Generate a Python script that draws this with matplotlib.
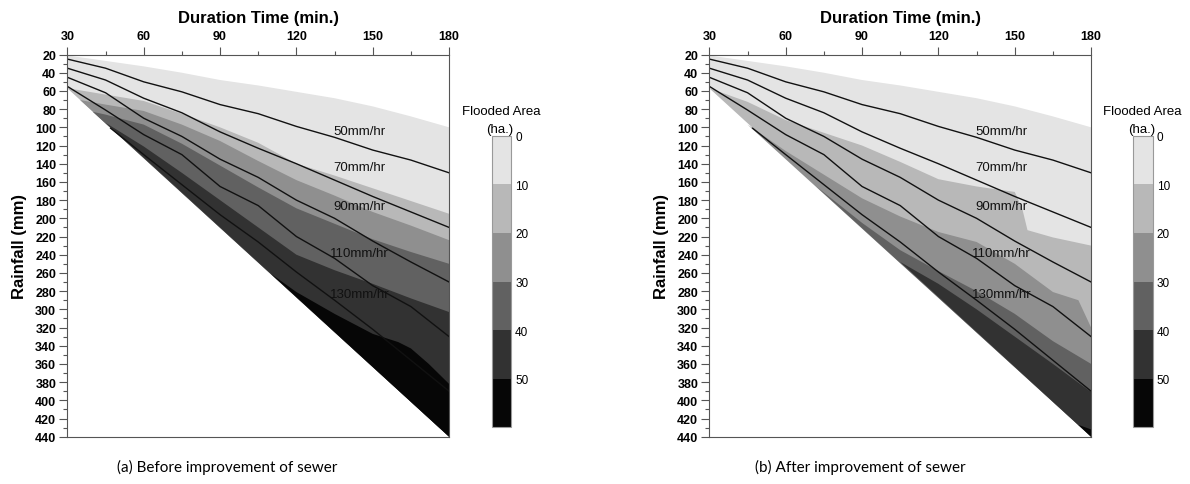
import matplotlib.pyplot as plt
import numpy as np
from matplotlib.colors import ListedColormap, BoundaryNorm
from matplotlib.cm import ScalarMappable
from matplotlib.ticker import MultipleLocator

plt.rcParams['font.family'] = ['Liberation Sans', 'DejaVu Sans']

# duration grid (min.)
DURATIONS = [30, 45, 60, 75, 90, 105, 120, 135, 150, 165, 180]

# simulated range: upper edge of rainfall and the straight lower edge
TOP_R = [21, 27, 33, 40, 48, 54, 61, 68, 77, 88, 100]
EDGE_D = [30, 180]
EDGE_R = [57, 440]

# rainfall intensity lines (mm) for 50..130 mm/hr
LINE_50 = [25, 35, 50, 61, 75, 85, 99, 111, 125, 136, 150]
LINE_70 = [35, 48, 68, 84, 105, 123, 140, 158, 176, 193, 210]
LINE_90 = [45, 62, 90, 110, 135, 155, 180, 200, 225, 248, 270]
LINE_110 = [55, 81, 108, 130, 165, 186, 220, 244, 274, 297, 330]
LINE_130_D = [47, 60, 75, 90, 105, 120, 135, 150, 165, 180]
LINE_130 = [101, 130, 163, 196, 226, 259, 290, 322, 356, 390]
LINE_NAMES = ['50mm/hr', '70mm/hr', '90mm/hr', '110mm/hr', '130mm/hr']
LABEL_D = [134.5, 134.5, 134.5, 133, 133]
LABEL_R = [104, 144, 187, 238, 283]

# flooded area contour boundaries (10, 20, 30, 40, 50 ha), before improvement
BEFORE_10_D = [30, 45, 60, 75, 90, 105, 120, 135, 150, 165, 180]
BEFORE_10_R = [57, 64, 71, 85, 100, 117, 140, 153, 167, 181, 195]
BEFORE_20_D = [35, 45, 60, 75, 90, 105, 120, 135, 150, 165, 180]
BEFORE_20_R = [70, 75, 82, 97, 115, 137, 158, 175, 193, 208, 224]
BEFORE_30_D = [40, 45, 60, 75, 90, 105, 120, 135, 150, 165, 180]
BEFORE_30_R = [83, 86, 97, 118, 142, 166, 189, 206, 223, 237, 250]
BEFORE_40_D = [45, 60, 75, 90, 105, 120, 135, 150, 165, 180]
BEFORE_40_R = [95, 121, 150, 180, 210, 240, 257, 272, 288, 303]
BEFORE_50_D = [110, 120, 135, 150, 160, 165, 172, 180]
BEFORE_50_R = [261, 281, 305, 327, 336, 343, 360, 382]

# after improvement
AFTER_10_D = [30, 45, 60, 75, 90, 105, 120, 135, 150, 153, 155, 165, 180]
AFTER_10_R = [57, 72, 92, 106, 120, 138, 157, 165, 171, 190, 213, 221, 230]
AFTER_20_D = [45, 60, 75, 90, 105, 120, 135, 150, 165, 175, 180]
AFTER_20_R = [97, 126, 152, 178, 198, 215, 226, 250, 281, 290, 320]
AFTER_30_D = [72, 90, 105, 120, 135, 150, 165, 180]
AFTER_30_R = [165, 205, 235, 258, 280, 305, 335, 360]
AFTER_40_D = [105, 120, 135, 150, 165, 180]
AFTER_40_R = [248, 272, 300, 330, 360, 391]
AFTER_50_D = [175, 180]
AFTER_50_R = [427, 432]

LEVELS = [0, 10, 20, 30, 40, 50, 60]
BAND_COLORS = ['#e4e4e4', '#b8b8b8', '#8f8f8f', '#616161', '#323232', '#060606']
SPINE = '#555555'


def draw_panel(fig, ax, cax, bounds, caption, caption_x, title_x):
    # lightest band fills the whole simulated range, darker ones stack on top
    ax.fill(np.r_[DURATIONS, EDGE_D[::-1]], np.r_[TOP_R, EDGE_R[::-1]],
            color=BAND_COLORS[0], lw=0)
    for (d, r), color in zip(bounds, BAND_COLORS[1:]):
        ax.fill(np.r_[d, EDGE_D[1]], np.r_[r, EDGE_R[1]], color=color, lw=0)

    lines = [(DURATIONS, LINE_50), (DURATIONS, LINE_70), (DURATIONS, LINE_90),
             (DURATIONS, LINE_110), (LINE_130_D, LINE_130)]
    for d, r in lines:
        ax.plot(d, r, color='#111111', lw=1.0)
    for name, d, r in zip(LINE_NAMES, LABEL_D, LABEL_R):
        ax.text(d, r, name, fontsize=9.5, color='#111111', ha='left', va='center')

    ax.set_xlim(30, 180)
    ax.set_ylim(440, 20)
    ax.xaxis.tick_top()
    ax.xaxis.set_label_position('top')
    ax.set_xticks(range(30, 181, 30), labels=[str(v) for v in range(30, 181, 30)],
                  fontweight='bold')
    ax.set_yticks(range(20, 441, 20), labels=[str(v) for v in range(20, 441, 20)],
                  fontweight='bold')
    ax.xaxis.set_minor_locator(MultipleLocator(15))
    ax.yaxis.set_minor_locator(MultipleLocator(10))
    ax.tick_params(which='major', direction='out', length=6, width=0.8,
                   color=SPINE, labelsize=9, pad=2)
    ax.tick_params(axis='x', which='major', pad=3)
    ax.tick_params(which='minor', direction='out', length=3, width=0.8, color=SPINE)
    for s in ax.spines.values():
        s.set_color(SPINE)
        s.set_linewidth(0.8)
    ax.set_xlabel('Duration Time (min.)', fontsize=12, fontweight='bold', labelpad=6)
    ax.set_ylabel('Rainfall (mm)', fontsize=12, fontweight='bold', labelpad=6)

    cmap = ListedColormap(BAND_COLORS)
    norm = BoundaryNorm(LEVELS, cmap.N)
    cb = fig.colorbar(ScalarMappable(norm=norm, cmap=cmap), cax=cax,
                      ticks=LEVELS[:-1], drawedges=True)
    cb.ax.invert_yaxis()
    cb.ax.minorticks_off()
    cb.outline.set_edgecolor('#999999')
    cb.outline.set_linewidth(0.8)
    cb.dividers.set_color('#999999')
    cb.dividers.set_linewidth(0.8)
    cax.tick_params(length=0, labelsize=8.5, pad=3)

    fig.text(title_x, 0.770, 'Flooded Area', ha='center', va='center', fontsize=9.5)
    fig.text(title_x - 0.001, 0.732, '(ha.)', ha='center', va='center', fontsize=9.5)
    fig.text(caption_x, 0.036, caption, ha='center', va='center', fontsize=11,
             family=['Lato', 'DejaVu Sans'])


fig = plt.figure(figsize=(11.9, 4.85), dpi=100)
ax_a = fig.add_axes([0.0566, 0.0975, 0.3208, 0.788])
cax_a = fig.add_axes([0.4132, 0.1169, 0.0162, 0.6012])
ax_b = fig.add_axes([0.5961, 0.0975, 0.3208, 0.788])
cax_b = fig.add_axes([0.9524, 0.1169, 0.0162, 0.6012])

before = [(BEFORE_10_D, BEFORE_10_R), (BEFORE_20_D, BEFORE_20_R),
          (BEFORE_30_D, BEFORE_30_R), (BEFORE_40_D, BEFORE_40_R),
          (BEFORE_50_D, BEFORE_50_R)]
after = [(AFTER_10_D, AFTER_10_R), (AFTER_20_D, AFTER_20_R),
         (AFTER_30_D, AFTER_30_R), (AFTER_40_D, AFTER_40_R),
         (AFTER_50_D, AFTER_50_R)]

draw_panel(fig, ax_a, cax_a, before, '(a) Before improvement of sewer', 0.191, 0.421)
draw_panel(fig, ax_b, cax_b, after, '(b) After improvement of sewer', 0.723, 0.960)

fig.savefig('out.png', dpi=100)
